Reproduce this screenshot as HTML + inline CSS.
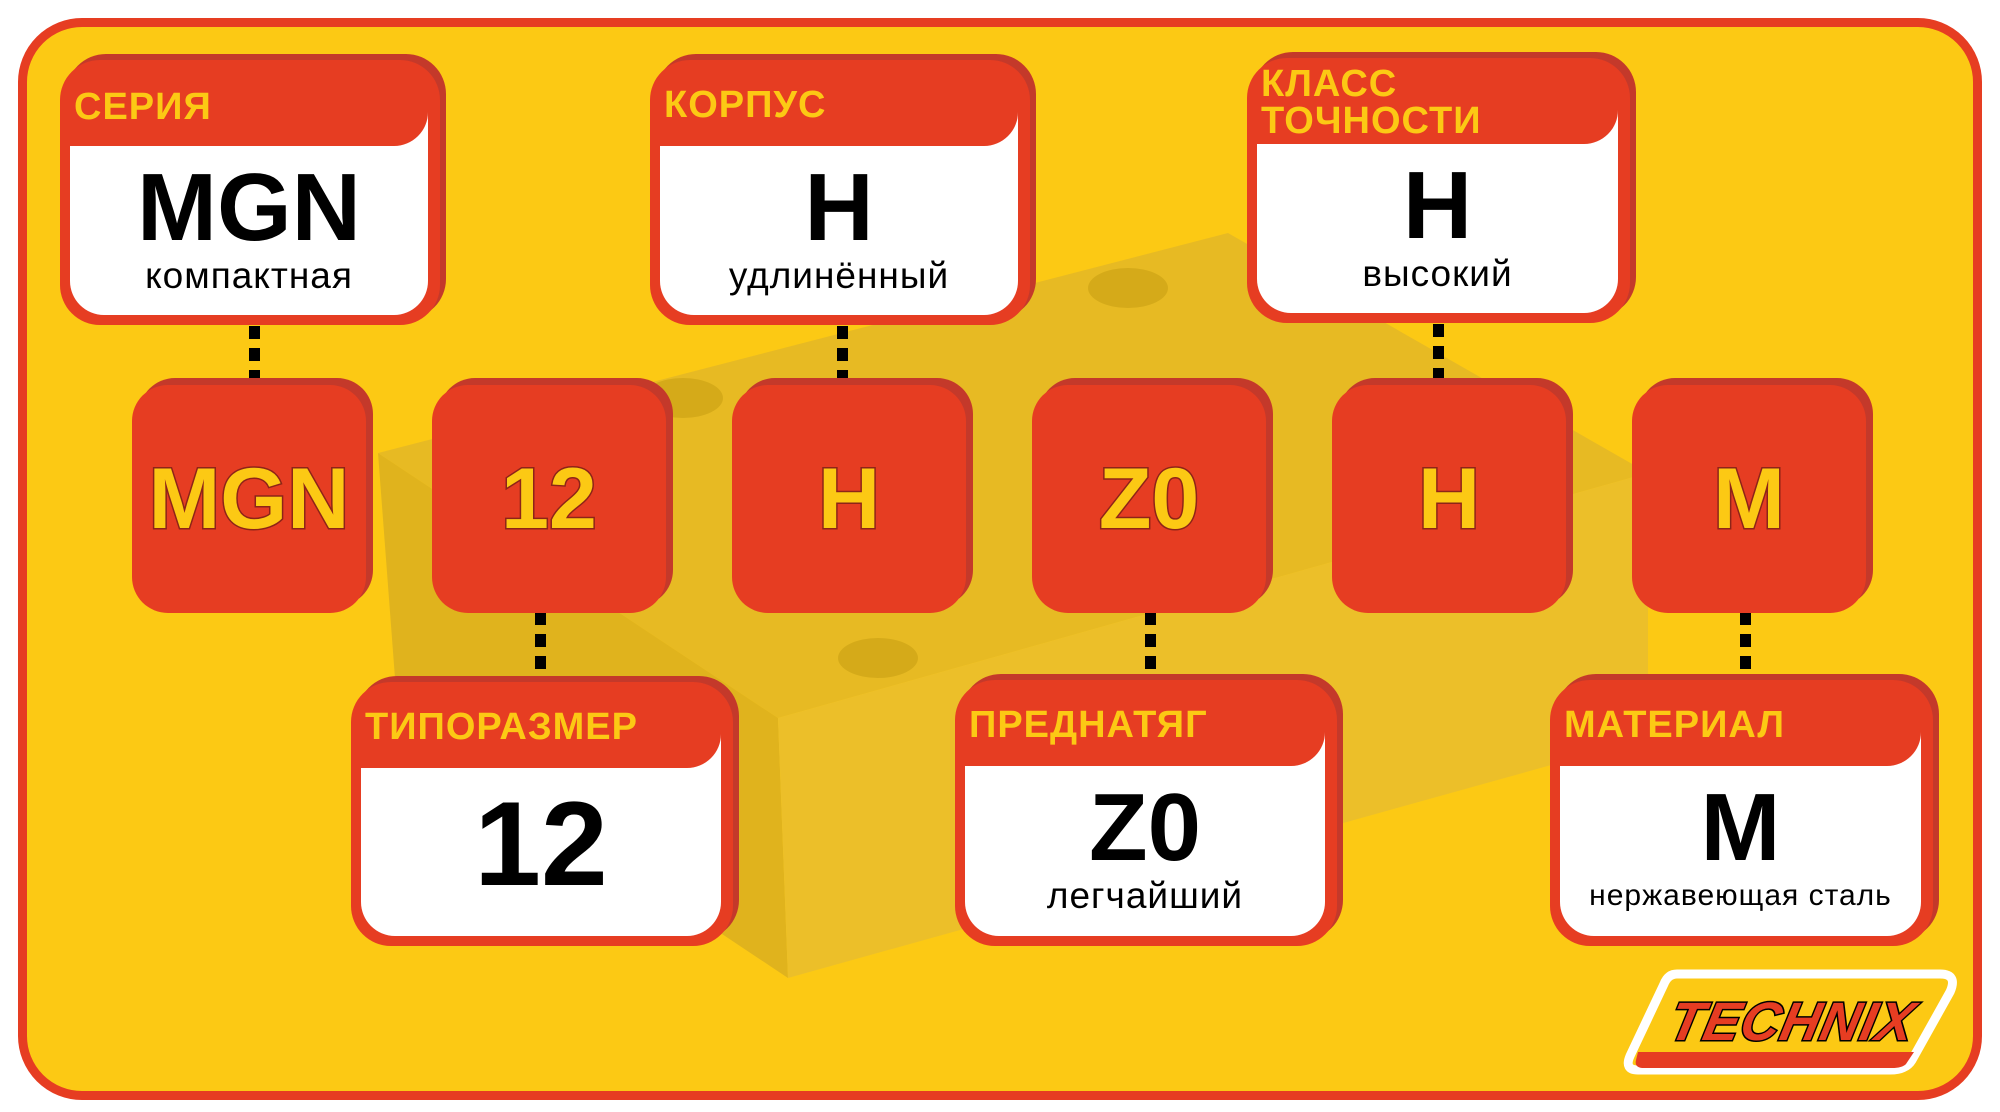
<!DOCTYPE html>
<html><head><meta charset="utf-8"><style>
*{margin:0;padding:0;box-sizing:border-box}
body{width:2000px;height:1112px;background:#fff;position:relative;overflow:hidden;font-family:"Liberation Sans",sans-serif}
.frame{position:absolute;left:18px;top:18px;width:1964px;height:1082px;background:#fcc914;border:9px solid #e63d22;border-radius:64px;overflow:hidden}
.card{position:absolute;background:#e63d22;border-radius:40px;box-shadow:6px -6px 0 #c4392a}
.card .hd{position:absolute;left:14px;top:12px;color:#fcc914;font-weight:bold;font-size:38px;line-height:38px;letter-spacing:1px}
.card .wh{position:absolute;left:10px;right:12px;bottom:10px;top:86px;background:#fff;border-radius:0 0 34px 34px;text-align:center}
.card .tab{position:absolute;right:12px;top:14px;width:40px;height:90px;background:#fff;border-radius:0 34px 0 0}
.card .tabr{position:absolute;right:12px;top:14px;width:52px;height:72px;background:#e63d22;border-radius:0 0 34px 0}
.big{font-weight:bold;font-size:96px;line-height:96px;color:#000;margin-top:14px}
.sub{font-size:37px;line-height:40px;color:#000;letter-spacing:1px}
.sq{position:absolute;width:234px;height:228px;top:385px;background:#e63d22;border-radius:36px;box-shadow:7px -7px 0 #c4392a;color:#fcc914;font-weight:bold;font-size:86px;text-align:center;line-height:228px;-webkit-text-stroke:3px #8d2418;paint-order:stroke fill}
.dot{position:absolute;width:11px;background:repeating-linear-gradient(#000 0 13px,transparent 13px 22px)}
</style></head><body>
<div class="frame">
<svg width="1964" height="1082" style="position:absolute;left:-9px;top:-9px;opacity:.4">
<polygon points="360,435 1210,215 1630,455 760,700" fill="#caa63a"/>
<polygon points="360,435 760,700 770,960 380,700" fill="#b7942c"/>
<polygon points="760,700 1630,455 1630,720 770,960" fill="#d6b24a"/>
<ellipse cx="1110" cy="270" rx="40" ry="20" fill="#9c7e22"/>
<ellipse cx="665" cy="380" rx="40" ry="20" fill="#9c7e22"/>
<ellipse cx="860" cy="640" rx="40" ry="20" fill="#9c7e22"/>
</svg>
</div>

<div class="dot" style="left:249px;top:326px;height:58px"></div>
<div class="dot" style="left:837px;top:326px;height:58px"></div>
<div class="dot" style="left:1433px;top:324px;height:60px"></div>
<div class="dot" style="left:535px;top:612px;height:67px"></div>
<div class="dot" style="left:1145px;top:612px;height:67px"></div>
<div class="dot" style="left:1740px;top:612px;height:67px"></div>

<div class="card" style="left:60px;top:60px;width:380px;height:265px"><div class="tab"></div><div class="tabr"></div><div class="hd" style="top:28px">СЕРИЯ</div><div class="wh"><div class="big">MGN</div><div class="sub">компактная</div></div></div>
<div class="card" style="left:650px;top:60px;width:380px;height:265px"><div class="tab"></div><div class="tabr"></div><div class="hd" style="top:26px">КОРПУС</div><div class="wh"><div class="big">H</div><div class="sub">удлинённый</div></div></div>
<div class="card" style="left:1247px;top:58px;width:383px;height:265px"><div class="tab"></div><div class="tabr"></div><div class="hd" style="top:8px;line-height:37px">КЛАСС<br>ТОЧНОСТИ</div><div class="wh"><div class="big">H</div><div class="sub">высокий</div></div></div>

<div class="sq" style="left:132px">MGN</div>
<div class="sq" style="left:432px">12</div>
<div class="sq" style="left:732px">H</div>
<div class="sq" style="left:1032px">Z0</div>
<div class="sq" style="left:1332px">H</div>
<div class="sq" style="left:1632px">M</div>

<div class="card" style="left:351px;top:682px;width:382px;height:264px"><div class="tab"></div><div class="tabr"></div><div class="hd" style="top:26px">ТИПОРАЗМЕР</div><div class="wh"><div class="big" style="font-size:120px;line-height:120px;margin-top:16px">12</div></div></div>
<div class="card" style="left:955px;top:680px;width:382px;height:266px"><div class="tab"></div><div class="tabr"></div><div class="hd" style="top:26px">ПРЕДНАТЯГ</div><div class="wh"><div class="big">Z0</div><div class="sub">легчайший</div></div></div>
<div class="card" style="left:1550px;top:680px;width:383px;height:266px"><div class="tab"></div><div class="tabr"></div><div class="hd" style="top:26px">МАТЕРИАЛ</div><div class="wh"><div class="big">M</div><div class="sub" style="font-size:30px">нержавеющая сталь</div></div></div>

<svg width="340" height="110" style="position:absolute;left:1622px;top:968px">
<path d="M55,6 H318 Q336,6 328,24 L290,92 Q284,102 268,102 H16 Q2,102 8,88 L42,16 Q46,6 55,6Z" fill="#fcc914" stroke="#fff" stroke-width="9"/>
<path d="M16,84 H292 L284,96 Q280,100 270,100 H22 Q12,100 14,92Z" fill="#e63d22"/>
<text x="168" y="72" text-anchor="middle" font-family="Liberation Sans" font-weight="bold" font-style="italic" font-size="54" fill="#e63d22" stroke="#000" stroke-width="3" paint-order="stroke" transform="skewX(-12) translate(14,0)" letter-spacing="1">TECHNIX</text>
</svg>
</body></html>
